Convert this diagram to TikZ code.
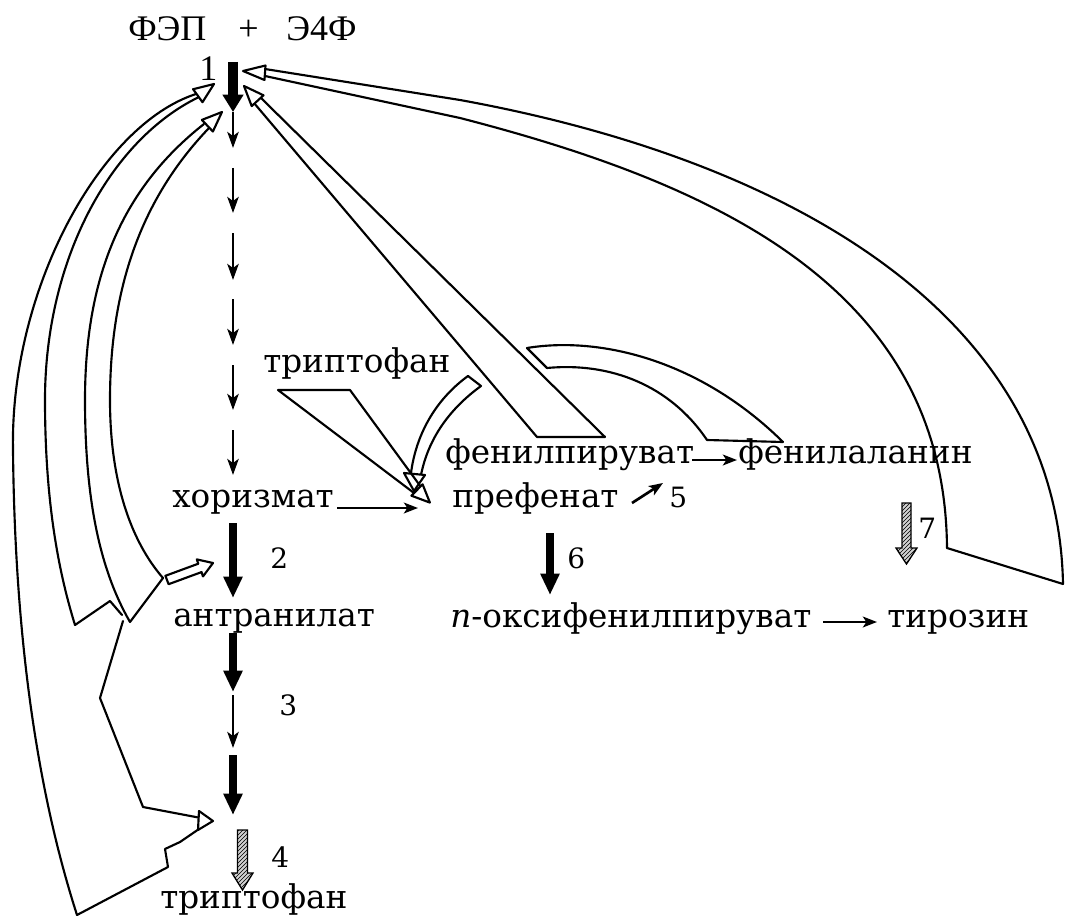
\documentclass[tikz,border=0pt]{standalone}
\usepackage{fontspec}
\setmainfont{DejaVu Serif}
\newfontfamily\topfont{Liberation Serif}
\usetikzlibrary{arrows.meta,patterns}
\begin{document}
\begin{tikzpicture}[x=0.75pt,y=-0.75pt,
  lbl/.style={inner sep=0pt, anchor=base west, font=\fontsize{24.5}{30}\selectfont},
  num/.style={inner sep=0pt, anchor=base west, font=\fontsize{21}{25}\selectfont},
  toplbl/.style={inner sep=0pt, anchor=base west, font=\topfont\fontsize{27}{32}\selectfont},
  band/.style={line width=1.6pt, line join=round, line cap=round},
  openhead/.style={line width=1.6pt, line join=round, fill=white},
  thinarr/.style={line width=2pt, -{Stealth[length=12pt,width=8.5pt,inset=3pt]}},
  harr/.style={line width=2pt, -{Stealth[length=10.5pt,width=8pt,inset=2.5pt]}},
  boldarr/.style={line width=6.5pt, -{Triangle[length=16pt,width=13.5pt]}},
  hatcharr/.style={line width=1pt, preaction={fill=gray!35}, pattern=north east lines},
]
\useasboundingbox (0,0) rectangle (1065,917);

% ---------- texts ----------
\node[toplbl] (fep) at (128,41) {ФЭП};
\node[toplbl] (plus) at (238,41) {+};
\node[toplbl] (e4f) at (286,41) {Э4Ф};
\node[toplbl] (n1) at (199,81) {1};
\node[lbl] (trpA) at (263,372) {триптофан};
\node[lbl] (chor) at (172,507) {хоризмат};
\node[lbl] (pref) at (452,507) {префенат};
\node[lbl] (phpyr) at (445,463) {фенилпируват};
\node[lbl] (phe) at (738,463) {фенилаланин};
\node[lbl] (anth) at (173,626) {антранилат};
\node[lbl] (hpp) at (450,627) {{\itshape п}-оксифенилпируват};
\node[lbl] (tyr) at (887,627) {тирозин};
\node[lbl] (trpB) at (160,908) {триптофан};
\node[num] (n2) at (270,568) {2};
\node[num] (n3) at (279,715) {3};
\node[num] (n4) at (271,867) {4};
\node[num] (n5) at (669,507) {5};
\node[num] (n6) at (567,568) {6};
\node[num] (n7) at (918,538) {7};

% ---------- main chain ----------
\coordinate (s1a) at (233,62); \coordinate (s1b) at (233,112);
\draw[line width=7.5pt, -{Triangle[length=13pt,width=15pt]}] (s1a) -- (s1b);
\foreach \a/\b [count=\i] in {112/148,168/213,233/280,299/345,365/410,430/475}{
  \coordinate (c\i a) at (233,\a); \coordinate (c\i b) at (233,\b);
  \draw[thinarr] (c\i a) -- (c\i b);
}
\coordinate (s2a) at (233,523); \coordinate (s2b) at (233,598);
\draw[boldarr] (s2a) -- (s2b);
\coordinate (s3a) at (233,633); \coordinate (s3b) at (233,692);
\draw[boldarr] (s3a) -- (s3b);
\coordinate (s3c) at (233,695); \coordinate (s3d) at (233,748);
\draw[thinarr] (s3c) -- (s3d);
\coordinate (s3e) at (233,755); \coordinate (s3f) at (233,815);
\draw[boldarr] (s3e) -- (s3f);
\coordinate (s6a) at (550,533); \coordinate (s6b) at (550,595);
\draw[boldarr] (s6a) -- (s6b);

% hatched arrows 4 and 7
\draw[hatcharr] (237.5,830) -- (247.5,830) -- (247.5,873) -- (253,873) -- (242.5,890) -- (232,873) -- (237.5,873) -- cycle;
\draw[hatcharr] (902,503) -- (911,503) -- (911,548) -- (917,548) -- (906.5,564) -- (896,548) -- (902,548) -- cycle;

% horizontal arrows
\coordinate (h1a) at (337,508); \coordinate (h1b) at (418,508);
\draw[harr] (h1a) -- (h1b);
\coordinate (h2a) at (692,460); \coordinate (h2b) at (737,460);
\draw[harr] (h2a) -- (h2b);
\coordinate (h5a) at (632,503); \coordinate (h5b) at (663,483);
\draw[harr] (h5a) -- (h5b);
\coordinate (h7a) at (823,622); \coordinate (h7b) at (877,622);
\draw[harr] (h7a) -- (h7b);

% ---------- band A (outer left, tryptophan -> 1) ----------
\draw[band] (196,94) .. controls (100,125) and (10,290) .. (13,450)
                     .. controls (15,650) and (40,800) .. (77,915)
            -- (168,867) -- (165,849) -- (180,842) -- (199,829);
\draw[band] (199,97) .. controls (110,140) and (45,260) .. (45,400)
                     .. controls (45,500) and (58,570) .. (75,625)
            -- (110,601) -- (122,615);
\draw[band] (123,621) -- (100,698) -- (143,807) -- (201,818);
\draw[openhead] (213,821) -- (199,811) -- (198,830) -- cycle;
\draw[openhead] (214,84) -- (193.1,89.2) -- (202.5,102.2) -- cycle;

% ---------- band B ----------
\draw[band] (204,124) .. controls (120,190) and (85,280) .. (85,400)
                      .. controls (85,500) and (100,570) .. (130,622)
            -- (163,578);
\draw[band] (209,128) .. controls (140,200) and (110,290) .. (110,400)
                      .. controls (110,480) and (130,540) .. (163,578);
\draw[openhead] (222,112) -- (201.9,119.9) -- (212.9,131.5) -- cycle;

% small block arrow to step 2
\draw[openhead] (165.4,575.8) -- (198.3,563.7) -- (196.8,559.4) -- (213,563) -- (203.0,576.4) -- (201.5,572.1) -- (168.6,584.2) -- cycle;

% ---------- band C (phenylpyruvate -> 1) ----------
\draw[band] (254,103) -- (537,437) -- (605,437) -- (261,98);
\draw[openhead] (244,86) -- (263.5,95.3) -- (251.7,106.1) -- cycle;

% ---------- band D (tyrosine -> 1) ----------
\draw[band] (265,69) -- (460,100) .. controls (790,160) and (1058,315) .. (1063,584)
            -- (947,548);
\draw[band] (265,76) -- (460,118) .. controls (720,185) and (945,290) .. (947,548);
\draw[openhead] (243,71) -- (265.5,65.5) -- (264.5,80) -- cycle;

% ---------- band E (phenylalanine -> prephenate step) ----------
\draw[band] (547,368) -- (527,348) .. controls (600,336) and (700,360) .. (783,442)
            -- (707,440) .. controls (670,385) and (610,362) .. (547,368);
% continuation (curved arrow)
\draw[band] (411,473) .. controls (416,435) and (435,400) .. (468,376)
            -- (481,386) .. controls (448,410) and (428,440) .. (421,475);
\draw[openhead] (414,491) -- (404,473) -- (425,475) -- cycle;

% ---------- wedge (tryptophan -> prephenate step) ----------
\draw[band] (414,493) -- (278,390) -- (350,390) -- (421,487);
\draw[openhead] (429.9,502.6) -- (422.6,484.3) -- (411.4,495.7) -- cycle;

\end{tikzpicture}
\end{document}
